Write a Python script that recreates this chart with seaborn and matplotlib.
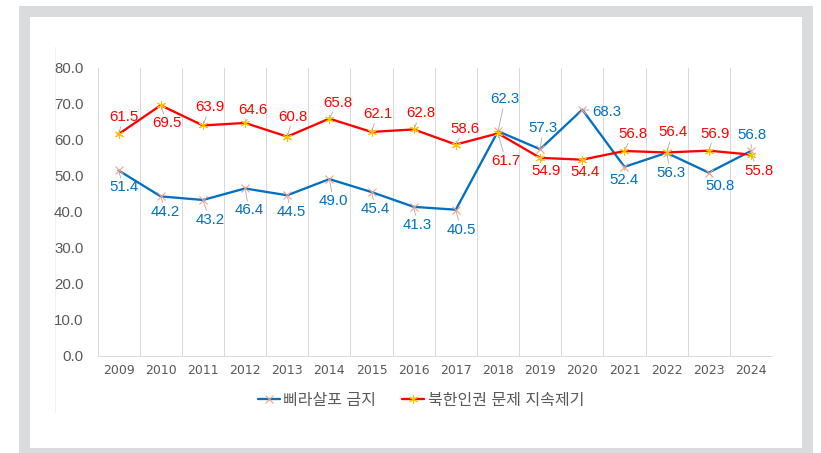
import matplotlib
matplotlib.use("Agg")
import matplotlib.pyplot as plt
import seaborn as sns
import pandas as pd
from matplotlib.patches import Rectangle
from matplotlib.lines import Line2D

years = ["2009", "2010", "2011", "2012", "2013", "2014", "2015", "2016",
         "2017", "2018", "2019", "2020", "2021", "2022", "2023", "2024"]
bira = [51.4, 44.2, 43.2, 46.4, 44.5, 49.0, 45.4, 41.3,
        40.5, 62.3, 57.3, 68.3, 52.4, 56.3, 50.8, 56.8]
human_rights = [61.5, 69.5, 63.9, 64.6, 60.8, 65.8, 62.1, 62.8,
                58.6, 61.7, 54.9, 54.4, 56.8, 56.4, 56.9, 55.8]
series_names = ["삐라살포 금지", "북한인권 문제 지속제기"]
y_ticks = [0, 10, 20, 30, 40, 50, 60, 70, 80]

# label offsets in pixels (dx, dy up)
bira_offsets = [(5, -17), (5, -16), (7, -20), (4, -22), (4, -17), (4, -22), (4, -17), (4, -18),
                (5, -20), (7, 32), (3, 21), (24, -2), (0, -13), (4, -20), (11, -13), (1, 16)]
hr_offsets = [(5, 17), (6, -18), (7, 18), (8, 13), (6, 20), (8, 16), (6, 18), (7, 16),
              (9, 16), (8, -28), (6, -13), (3, -12), (8, 17), (6, 20), (6, 17), (8, -16)]

sns.set_theme(style="white")
plt.rcParams["font.family"] = ["Liberation Sans", "Noto Sans CJK KR", "DejaVu Sans"]

W, H = 821, 453
DPI = 72
fig = plt.figure(figsize=(W / DPI, H / DPI), dpi=DPI)
fig.patch.set_facecolor("white")

# grey frame
fig.patches.append(Rectangle((19 / W, 0), 794 / W, 447 / H, transform=fig.transFigure,
                             facecolor="#dadbdd", edgecolor="none", zorder=-10))
fig.patches.append(Rectangle((30 / W, 5 / H), 772 / W, 431 / H, transform=fig.transFigure,
                             facecolor="white", edgecolor="none", zorder=-9))
fig.lines.append(Line2D([55 / W, 55 / W], [1 - 47 / H, 1 - 412 / H], transform=fig.transFigure,
                        color="#f0f0f0", lw=1, zorder=-8))

left, right, top, bottom = 97.5, 772, 67.5, 355.5
ax = fig.add_axes([left / W, 1 - bottom / H, (right - left) / W, (bottom - top) / H])
ax.set_facecolor("none")

x = list(range(len(years)))
df_b = pd.DataFrame({"x": x, "y": bira})
df_h = pd.DataFrame({"x": x, "y": human_rights})

blue = "#0070C0"
red = "#FF0000"

sns.lineplot(data=df_b, x="x", y="y", ax=ax, color=blue, lw=2.3, marker="x",
             markersize=8, markeredgecolor="#F4A08A", markeredgewidth=1.1,
             label=series_names[0], zorder=3)
sns.lineplot(data=df_h, x="x", y="y", ax=ax, color=red, lw=2.3, marker=(6, 2, 0),
             markersize=9, markeredgecolor="#FFC000", markeredgewidth=1.1,
             label=series_names[1], zorder=3)

for i in range(len(years)):
    ax.axvline(i - 0.5, color="#d9d9d9", lw=1, zorder=0)

ax.set_xlim(-0.5, len(years) - 0.5)
ax.set_ylim(0, 80)
ax.set_yticks(y_ticks)
ax.set_yticklabels([f"{v:.1f}" for v in y_ticks])
ax.set_xticks(x)
ax.set_xticklabels(years, family="DejaVu Sans", fontsize=12.5)
ax.tick_params(axis="y", length=0, pad=14, labelsize=15, labelcolor="#595959")
ax.tick_params(axis="x", length=0, pad=9, labelcolor="#595959")
ax.set_xlabel("")
ax.set_ylabel("")
for s in ["left", "right", "top"]:
    ax.spines[s].set_visible(False)
ax.spines["bottom"].set_color("#d9d9d9")
ax.spines["bottom"].set_linewidth(1)
ax.grid(False)

arrow = dict(arrowstyle="-", color="#a6a6a6", lw=0.8, shrinkA=0, shrinkB=2)
for xi, v, (dx, dy) in zip(x, bira, bira_offsets):
    ax.annotate(f"{v:.1f}", xy=(xi, v), xytext=(dx, dy), textcoords="offset points",
                ha="center", va="center", fontsize=15, color=blue,
                arrowprops=arrow, zorder=4)
for xi, v, (dx, dy) in zip(x, human_rights, hr_offsets):
    ax.annotate(f"{v:.1f}", xy=(xi, v), xytext=(dx, dy), textcoords="offset points",
                ha="center", va="center", fontsize=15, color=red,
                arrowprops=arrow, zorder=4)

handles, labels = ax.get_legend_handles_labels()
if ax.get_legend() is not None:
    ax.get_legend().remove()
leg = fig.legend(handles, labels, loc="center", bbox_to_anchor=(421 / W, 1 - 400 / H),
                 ncol=2, frameon=False, fontsize=16, handlelength=1.4, handletextpad=0.2,
                 columnspacing=1.6, labelcolor="#595959")

fig.savefig("out.png", dpi=DPI, facecolor="white")
